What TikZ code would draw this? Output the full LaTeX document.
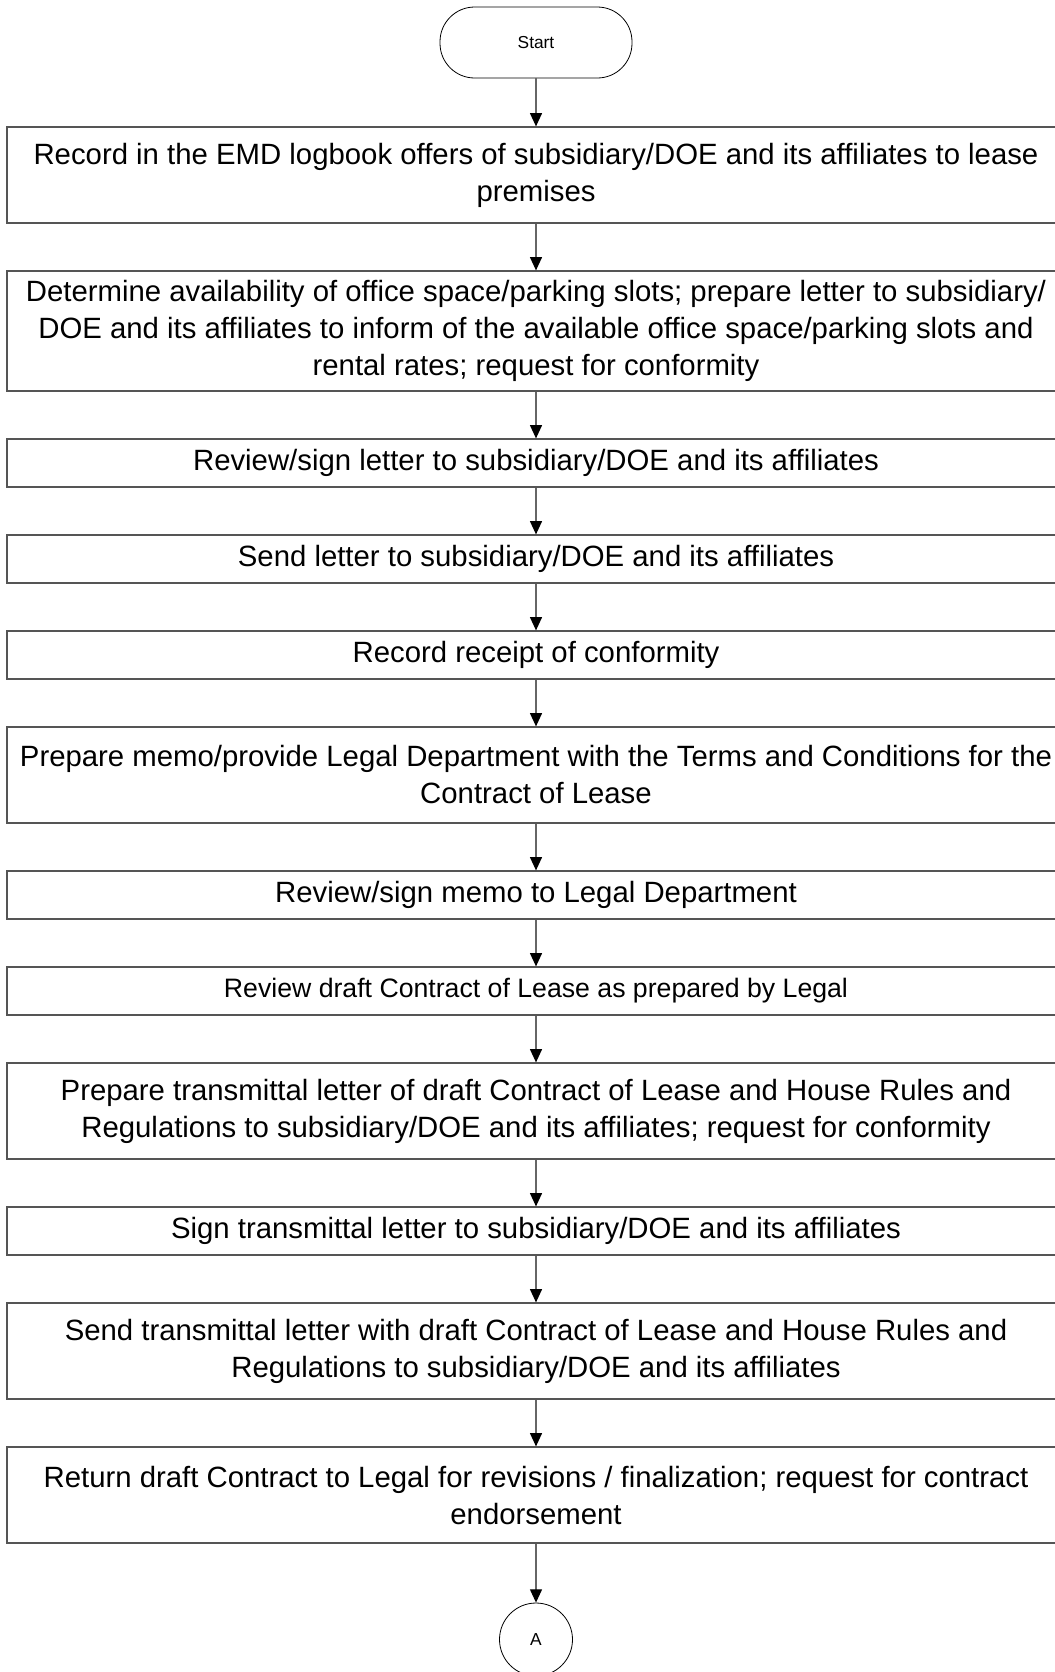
\documentclass[tikz,border=0pt]{standalone}
\usepackage{fontspec}
\setmainfont{Liberation Sans}
\usepackage{tikz}
\usetikzlibrary{arrows.meta}
\definecolor{boxGray}{HTML}{555555}
\definecolor{linkGray}{HTML}{666666}

\begin{document}
\begin{tikzpicture}[x=0.75pt,y=-0.75pt,
        procbox/.style={draw=boxGray, line width=0.9pt, minimum width=793.5pt, inner sep=0pt, align=center, font=\fontsize{22}{27.75}\selectfont},
        terminal/.style={draw=black, line width=0.6pt, rounded corners=26pt, minimum width=144pt, minimum height=53.25pt, font=\fontsize{13}{15}\selectfont},
        offpage/.style={circle, draw=black, line width=0.6pt, minimum size=54.75pt, inner sep=0pt, font=\fontsize{13}{15}\selectfont},
        flowarrow/.style={draw=linkGray, line width=1pt, -{Triangle[width=9pt,length=10pt,color=black]}}]
    \useasboundingbox (0,0) rectangle (1055,1672);
    \clip (0,0) rectangle (1055,1672);
    \node[terminal] (start) at (536,42.5) {Start};
    \node[procbox, minimum height=72pt] (logoffer) at (536,175) {Record in the EMD logbook offers of subsidiary/DOE and its affiliates to lease\\premises};
    \node[procbox, minimum height=90pt] (avail) at (536,331) {Determine availability of office space/parking slots; prepare letter to subsidiary/\\DOE and its affiliates to inform of the available office space/parking slots and\\rental rates; request for conformity};
    \node[procbox, minimum height=36pt] (revletter) at (536,463) {Review/sign letter to subsidiary/DOE and its affiliates};
    \node[procbox, minimum height=36pt] (sendletter) at (536,559) {Send letter to subsidiary/DOE and its affiliates};
    \node[procbox, minimum height=36pt] (receipt) at (536,655) {Record receipt of conformity};
    \node[procbox, minimum height=72pt] (memo) at (536,775) {Prepare memo/provide Legal Department with the Terms and Conditions for the\\Contract of Lease};
    \node[procbox, minimum height=36pt] (revmemo) at (536,895) {Review/sign memo to Legal Department};
    \node[procbox, minimum height=36pt, font=\fontsize{20}{25}\selectfont] (revdraft) at (536,991) {Review draft Contract of Lease as prepared by Legal};
    \node[procbox, minimum height=72pt] (transprep) at (536,1111) {Prepare transmittal letter of draft Contract of Lease and House Rules and\\Regulations to subsidiary/DOE and its affiliates; request for conformity};
    \node[procbox, minimum height=36pt] (transsign) at (536,1231) {Sign transmittal letter to subsidiary/DOE and its affiliates};
    \node[procbox, minimum height=72pt] (transsend) at (536,1351) {Send transmittal letter with draft Contract of Lease and House Rules and\\Regulations to subsidiary/DOE and its affiliates};
    \node[procbox, minimum height=72pt] (retdraft) at (536,1495) {Return draft Contract to Legal for revisions / finalization; request for contract\\endorsement};
    \node[offpage] (conA) at (536,1639.5) {A};
    % links down the page
    \foreach \a/\b in {start/logoffer, logoffer/avail, avail/revletter, revletter/sendletter,
            sendletter/receipt, receipt/memo, memo/revmemo, revmemo/revdraft, revdraft/transprep,
            transprep/transsign, transsign/transsend, transsend/retdraft, retdraft/conA}
        \draw[flowarrow] (\a) -- (\b);
\end{tikzpicture}
\end{document}
